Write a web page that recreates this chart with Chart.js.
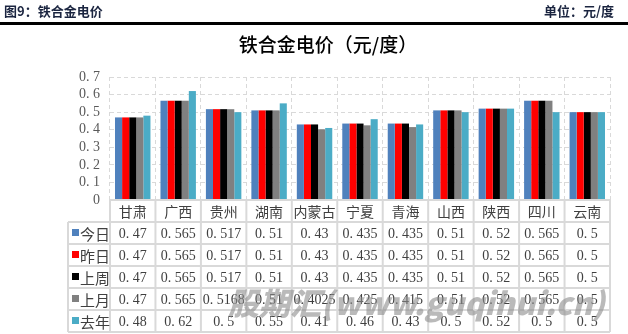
<!DOCTYPE html>
<html>
<head>
<meta charset="utf-8">
<script src="https://cdn.jsdelivr.net/npm/chart.js@4/dist/chart.umd.min.js"></script>
<style>
html,body{margin:0;padding:0;background:#fff;}
#wrap{position:relative;width:628px;height:334px;}
</style>
</head>
<body>
<div id="wrap"><canvas id="c" width="628" height="334"></canvas></div>
<script>
const categories = ['甘肃','广西','贵州','湖南','内蒙古','宁夏','青海','山西','陕西','四川','云南'];
const seriesNames = ['今日','昨日','上周','上月','去年'];
const today     = [0.47, 0.565, 0.517, 0.51, 0.43, 0.435, 0.435, 0.51, 0.52, 0.565, 0.5];
const yesterday = [0.47, 0.565, 0.517, 0.51, 0.43, 0.435, 0.435, 0.51, 0.52, 0.565, 0.5];
const lastWeek  = [0.47, 0.565, 0.517, 0.51, 0.43, 0.435, 0.435, 0.51, 0.52, 0.565, 0.5];
const lastMonth = [0.47, 0.565, 0.5168, 0.51, 0.4025, 0.425, 0.415, 0.51, 0.52, 0.565, 0.5];
const lastYear  = [0.48, 0.62, 0.5, 0.55, 0.41, 0.46, 0.43, 0.5, 0.52, 0.5, 0.5];
const yTicks = [0, 0.1, 0.2, 0.3, 0.4, 0.5, 0.6, 0.7];
const colors = ['#4F81BD','#FF0000','#000000','#808080','#4BACC6'];
const seriesValues = [today, yesterday, lastWeek, lastMonth, lastYear];

const SERIF = '"Liberation Serif","DejaVu Serif","Noto Sans CJK SC",serif';
const CJK = '"Noto Sans CJK SC",sans-serif';

const tablePlugin = {
  id: 'tablePlugin',
  afterDraw(chart) {
    const ctx = chart.ctx;
    const area = chart.chartArea;
    const xs = chart.scales.x;
    const n = categories.length;
    const cw = (area.right - area.left) / n;
    const rowH = 22;
    const top = area.bottom;
    const labelLeft = 68;
    ctx.save();
    // header
    ctx.fillStyle = '#1b2540';
    ctx.font = 'bold 13px ' + CJK;
    ctx.textBaseline = 'middle';
    ctx.textAlign = 'left';
    ctx.fillText('图9：铁合金电价', 4, 11);
    ctx.textAlign = 'right';
    ctx.fillText('单位：元/度', 614, 11);
    ctx.fillStyle = '#000';
    ctx.fillRect(0, 22, 628, 3);
    // title
    ctx.fillStyle = '#000';
    ctx.font = '500 19px ' + CJK;
    ctx.textAlign = 'center';
    ctx.fillText('铁合金电价（元/度）', 328, 45);

    // table lines
    ctx.strokeStyle = '#d9d9d9';
    ctx.lineWidth = 2;
    ctx.beginPath();
    ctx.moveTo(area.left, top); ctx.lineTo(area.right, top);
    for (let r = 1; r <= 6; r++) {
      const y = top + r * rowH;
      ctx.moveTo(labelLeft, y); ctx.lineTo(area.right, y);
    }
    for (let i = 0; i <= n; i++) {
      const x = area.left + i * cw;
      ctx.moveTo(x, top); ctx.lineTo(x, top + 6 * rowH);
    }
    ctx.moveTo(labelLeft, top + rowH); ctx.lineTo(labelLeft, top + 6 * rowH);
    ctx.stroke();

    // category labels
    ctx.fillStyle = '#404040';
    ctx.textAlign = 'center';
    ctx.textBaseline = 'middle';
    ctx.font = '14px ' + CJK;
    for (let i = 0; i < n; i++) {
      ctx.fillText(categories[i], xs.getPixelForValue(i), top + rowH / 2 + 1);
    }
    // rows
    for (let s = 0; s < seriesNames.length; s++) {
      const yc = top + rowH * (s + 1) + rowH / 2 + 1;
      ctx.fillStyle = colors[s];
      ctx.fillRect(72, yc - 5, 7, 7);
      ctx.fillStyle = '#404040';
      ctx.textAlign = 'left';
      ctx.font = '15px ' + CJK;
      ctx.fillText(seriesNames[s], 80, yc);
      ctx.textAlign = 'center';
      ctx.font = '14px ' + SERIF;
      for (let i = 0; i < n; i++) {
        ctx.fillText(String(seriesValues[s][i]).replace('.', '. '), xs.getPixelForValue(i), yc);
      }
    }
    // watermark
    ctx.globalAlpha = 0.6;
    ctx.fillStyle = '#8c8c8c';
    ctx.textAlign = 'left';
    ctx.font = 'italic 900 31px ' + CJK;
    ctx.fillText('股期汇(www.guqihui.cn)', 228, 303);
    ctx.restore();
  }
};

new Chart(document.getElementById('c'), {
  type: 'bar',
  data: {
    labels: categories,
    datasets: seriesNames.map((name, k) => ({
      label: name,
      data: seriesValues[k],
      backgroundColor: colors[k],
      borderWidth: 0,
      barPercentage: 1.0,
      categoryPercentage: 0.78
    }))
  },
  options: {
    responsive: false,
    animation: false,
    devicePixelRatio: 1,
    layout: { padding: { left: 50, right: 18, top: 77, bottom: 0 } },
    plugins: { legend: { display: false }, title: { display: false }, tooltip: { enabled: false } },
    scales: {
      x: {
        grid: { display: true, color: '#d9d9d9', lineWidth: 1, drawTicks: false, offset: true },
        border: { display: false, dash: [4, 3] },
        ticks: { display: false },
        afterFit(scale) { scale.height = 134; }
      },
      y: {
        min: 0, max: 0.7,
        afterBuildTicks(scale) { scale.ticks = yTicks.map(v => ({ value: v })); },
        grid: { color: '#d9d9d9', lineWidth: 1, drawTicks: false },
        border: { display: false, dash: [4, 3] },
        ticks: {
          autoSkip: false,
          color: '#595959',
          font: { family: SERIF, size: 14 },
          padding: 10,
          callback: v => v === 0 ? '0' : String(Math.round(v * 10) / 10).replace('.', '. ')
        },
        afterFit(scale) { scale.width = 60; }
      }
    }
  },
  plugins: [tablePlugin]
});
</script>
</body>
</html>
